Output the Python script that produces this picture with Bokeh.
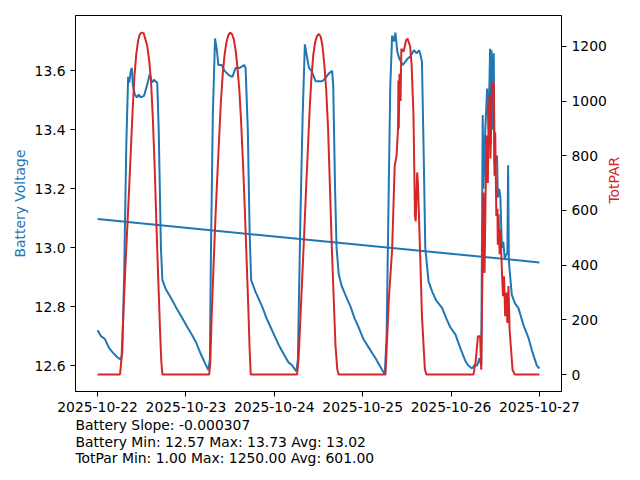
import math
from bokeh.plotting import figure
from bokeh.models import Range1d, LinearAxis, FixedTicker, Title, NumeralTickFormatter
from bokeh.embed import file_html
from bokeh.resources import INLINE

# ---------------- DATA ----------------
# hours since 2025-10-22 00:00
bat_hours = [0.0, 0.9, 2.0, 3.1, 4.1, 5.2, 6.3, 6.7, 7.2, 7.8, 8.3, 8.6, 9.0, 9.3, 9.6,
             10.1, 10.7, 11.2, 11.7, 12.6, 13.4, 14.2, 14.7, 15.3, 16.2, 16.6, 17.2, 17.6,
             18.5, 19.9, 21.2, 22.6, 24.4, 25.8, 26.7, 28.0, 29.1, 30.1, 30.5, 30.8, 31.3,
             31.9, 32.4, 32.8, 33.7, 34.5, 35.7, 36.6, 37.5, 38.6, 39.8, 40.2, 40.8, 41.3,
             41.7, 42.9, 44.7, 45.9, 47.0, 48.1, 49.2, 50.5, 51.9, 52.9, 54.0, 54.4, 55.1,
             55.7, 56.3, 56.7, 57.4, 58.1, 59.2, 61.0, 61.9, 62.7, 63.7, 64.0, 64.5, 64.9,
             65.5, 66.3, 67.3, 68.7, 69.8, 70.9, 72.2, 73.7, 74.7, 75.5, 76.6, 78.0, 78.5,
             79.1, 79.5, 80.0, 80.5, 80.9, 81.4, 82.0, 82.9, 83.5, 84.1, 85.0, 85.9, 86.7,
             87.3, 87.7, 88.1, 88.6, 89.0, 89.9, 90.9, 92.0, 93.6, 94.7, 95.8, 97.2, 98.5,
             99.9, 100.7, 101.7, 102.3, 103.1, 103.7, 104.2, 104.6, 104.8, 105.3, 105.8,
             106.2, 106.6, 106.8, 107.0, 107.3, 107.6, 107.8, 108.2, 108.5, 108.7, 109.1,
             109.4, 109.8, 110.2, 110.6, 110.9, 111.3, 111.5, 111.7, 111.8, 112.5, 113.4,
             114.3, 115.6, 117.0, 118.0, 119.3, 120.0]
bat_volts = [12.72, 12.70, 12.69, 12.66, 12.645, 12.63, 12.62, 12.64, 12.90, 13.35, 13.58,
             13.56, 13.60, 13.61, 13.55, 13.52, 13.51, 13.52, 13.51, 13.515, 13.55, 13.59,
             13.56, 13.57, 13.56, 13.40, 13.00, 12.89, 12.86, 12.83, 12.80, 12.77, 12.73,
             12.70, 12.68, 12.64, 12.61, 12.585, 12.62, 13.00, 13.45, 13.71, 13.67, 13.62,
             13.62, 13.60, 13.585, 13.58, 13.61, 13.61, 13.62, 13.61, 13.40, 13.05, 12.89,
             12.85, 12.80, 12.76, 12.73, 12.70, 12.67, 12.64, 12.61, 12.60, 12.58, 12.62,
             13.11, 13.45, 13.69, 13.66, 13.61, 13.60, 13.565, 13.565, 13.575, 13.59, 13.60,
             13.55, 13.20, 13.00, 12.91, 12.87, 12.84, 12.80, 12.76, 12.73, 12.69, 12.66,
             12.64, 12.625, 12.60, 12.57, 12.70, 13.22, 13.55, 13.72, 13.70, 13.73, 13.665,
             13.64, 13.62, 13.63, 13.64, 13.65, 13.67, 13.66, 13.67, 13.655, 13.63, 13.30,
             13.00, 12.885, 12.85, 12.82, 12.795, 12.76, 12.73, 12.705, 12.66, 12.615, 12.60,
             12.59, 12.60, 12.60, 12.625, 12.60, 13.45, 13.20, 13.40, 13.54, 13.40, 13.675,
             13.35, 13.67, 13.40, 13.66, 13.28, 13.31, 13.31, 13.17, 13.20, 13.17, 13.00,
             13.02, 12.96, 12.975, 12.98, 13.28, 12.96, 12.94, 12.84, 12.81, 12.795, 12.74,
             12.695, 12.65, 12.60, 12.59]

par_hours = [0.0, 6.1, 6.5, 7.0, 7.5, 8.0, 8.5, 9.0, 9.5, 10.0, 10.5, 11.0, 11.5, 12.0,
             12.5, 13.0, 13.5, 14.0, 14.5, 15.0, 15.5, 16.0, 16.5, 17.0, 17.3, 17.6,
             30.3, 30.6, 31.0, 31.5, 32.0, 32.5, 33.0, 33.5, 34.0, 34.5, 35.0, 35.5, 36.0,
             36.5, 37.0, 37.5, 38.0, 38.5, 39.0, 39.5, 40.0, 40.5, 41.0, 41.3, 41.6,
             54.2, 54.6, 55.1, 55.6, 56.1, 56.6, 57.1, 57.6, 58.1, 58.6, 59.1, 59.6, 60.1,
             60.6, 61.1, 61.6, 62.1, 62.6, 63.1, 63.6, 64.1, 64.6, 65.1, 65.5,
             78.2, 79.1, 80.0, 80.7, 81.2, 81.6, 81.7, 81.8, 82.0, 82.3, 82.5, 83.1, 83.8,
             84.2, 84.9, 85.3, 85.8, 86.2, 86.4, 86.8, 87.0, 87.4, 87.7, 88.1, 88.9, 89.3,
             102.1, 102.7, 103.3, 103.9, 104.2, 104.8, 105.1, 105.6, 106.0, 106.2, 106.5,
             106.7, 107.1, 107.6, 107.8, 108.0, 108.3, 108.6, 108.7, 108.9, 109.2, 109.4,
             109.8, 110.1, 110.4, 110.7, 111.0, 111.3, 111.6, 111.9, 112.3, 112.7, 113.3,
             120.0]
par_values = [1, 1, 60, 220, 380, 520, 660, 810, 960, 1090, 1170, 1220, 1245, 1250,
              1248, 1225, 1200, 1150, 1075, 940, 760, 540, 340, 150, 50, 1,
              1, 40, 220, 400, 570, 720, 860, 1000, 1100, 1170, 1215, 1240, 1250,
              1245, 1225, 1185, 1120, 1040, 920, 770, 600, 410, 220, 90, 1,
              1, 60, 210, 360, 510, 670, 820, 970, 1090, 1170, 1215, 1238, 1245,
              1235, 1200, 1130, 1040, 900, 690, 470, 290, 110, 20, 1,
              1, 275, 458, 764, 800, 898, 1075, 900, 1100, 1000, 1191, 1180, 1222,
              1228, 1199, 1130, 947, 580, 560, 739, 700, 531, 400, 214, 19, 1,
              1, 50, 140, 140, 18, 666, 372, 874, 700, 959, 1020,
              790, 1057, 1069, 727, 886, 580, 606, 475, 586, 440, 531,
              386, 287, 360, 214, 300, 189, 324, 165, 92, 18, 1,
              1]

trend_hours = [0.0, 120.0]
trend_volts = [13.097, 12.950]

date_ticks = [0, 24, 48, 72, 96, 120]
date_labels = ["2025-10-22", "2025-10-23", "2025-10-24", "2025-10-25", "2025-10-26", "2025-10-27"]
volt_ticks = [12.6, 12.8, 13.0, 13.2, 13.4, 13.6]
par_ticks = [0, 200, 400, 600, 800, 1000, 1200]

stats_lines = ["Battery Slope: -0.000307",
               "Battery Min: 12.57 Max: 13.73 Avg: 13.02",
               "TotPar Min: 1.00 Max: 1250.00 Avg: 601.00"]

BLUE = "#1f77b4"
RED = "#d62728"
FONT = "DejaVu Sans"
FS = "13.9px"

# ---------------- FIGURE ----------------
p = figure(width=640, height=480, output_backend="svg", toolbar_location=None,
           x_range=Range1d(-6, 126), y_range=Range1d(12.512, 13.788),
           min_border_left=75, min_border_right=79, min_border_top=15, min_border_bottom=89)
p.extra_y_ranges = {"par": Range1d(-61.45, 1312.45)}

p.xgrid.visible = False
p.ygrid.visible = False
p.outline_line_color = "black"
p.outline_line_alpha = 1.0
p.outline_line_width = 1
p.background_fill_color = "white"
p.border_fill_color = "white"

p.line(bat_hours, bat_volts, line_color=BLUE, line_width=2)
p.line(trend_hours, trend_volts, line_color=BLUE, line_width=2)
p.line(par_hours, par_values, line_color=RED, line_width=2, y_range_name="par")

right = LinearAxis(y_range_name="par", axis_label="TotPAR")
p.add_layout(right, "right")

p.xaxis.ticker = FixedTicker(ticks=date_ticks)
p.xaxis.major_label_overrides = {t: l for t, l in zip(date_ticks, date_labels)}
p.yaxis[0].ticker = FixedTicker(ticks=volt_ticks)
p.yaxis[0].formatter = NumeralTickFormatter(format="0.0")
p.yaxis[0].axis_label = "Battery Voltage"
p.yaxis[0].axis_label_text_color = BLUE
right.ticker = FixedTicker(ticks=par_ticks)
right.axis_label_text_color = RED

for ax in [p.xaxis[0], p.yaxis[0], right]:
    ax.major_tick_out = 5
    ax.major_tick_in = 0
    ax.minor_tick_out = 0
    ax.minor_tick_in = 0
    ax.axis_line_color = "black"
    ax.axis_line_width = 1
    ax.major_tick_line_color = "black"
    ax.major_tick_line_width = 1
    ax.major_label_text_color = "black"
    ax.major_label_text_font = FONT
    ax.major_label_text_font_size = FS
    ax.major_label_standoff = 5
    ax.axis_label_text_font = FONT
    ax.axis_label_text_font_size = FS
    ax.axis_label_text_font_style = "normal"
p.yaxis[0].axis_label_standoff = 4
right.axis_label_standoff = 4
right.axis_label_orientation = math.pi / 2

for i, line in enumerate(stats_lines):
    t = Title(text=line, align="left", text_font=FONT, text_font_size=FS,
              text_font_style="normal", text_color="black",
              standoff=0 if i == 0 else -2, offset=0)
    p.add_layout(t, "below")

open("out.html", "w").write(file_html(p, INLINE))
